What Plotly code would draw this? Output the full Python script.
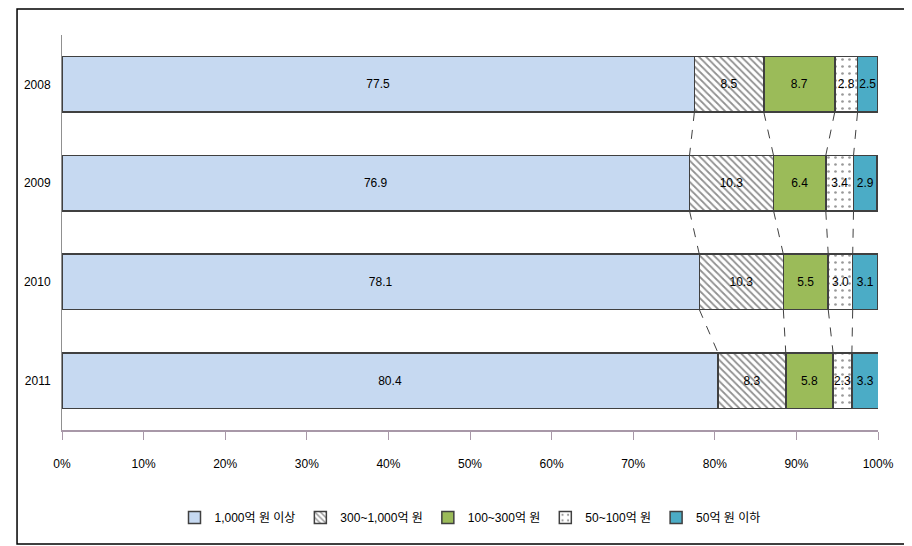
import plotly.graph_objects as go

years = ["2008", "2009", "2010", "2011"]
series_names = ["1,000억 원 이상", "300~1,000억 원", "100~300억 원", "50~100억 원", "50억 원 이하"]
s_1000_plus = [77.5, 76.9, 78.1, 80.4]
s_300_1000 = [8.5, 10.3, 10.3, 8.3]
s_100_300 = [8.7, 6.4, 5.5, 5.8]
s_50_100 = [2.8, 3.4, 3.0, 2.3]
s_50_minus = [2.5, 2.9, 3.1, 3.3]
x_ticks = [0, 10, 20, 30, 40, 50, 60, 70, 80, 90, 100]
x_ticklabels = ["0%", "10%", "20%", "30%", "40%", "50%", "60%", "70%", "80%", "90%", "100%"]

series = [s_1000_plus, s_300_1000, s_100_300, s_50_100, s_50_minus]
FONT = "Liberation Sans Narrow, Liberation Sans, Noto Sans CJK KR, sans-serif"
BAR_W = 0.56
ypos = list(range(len(years)))

styles = [
    dict(color="#C6D9F1"),
    dict(color="white", pattern=dict(shape="\\", fgcolor="#222222", bgcolor="white", size=5, solidity=0.35)),
    dict(color="#9BBB59"),
    dict(color="white", pattern=dict(shape=".", fgcolor="#333333", bgcolor="white", size=7, solidity=0.12)),
    dict(color="#4BACC6"),
]

fig = go.Figure()
for name, vals, st in zip(series_names, series, styles):
    fig.add_trace(go.Bar(
        y=ypos, x=vals, name=name, orientation="h", width=BAR_W,
        marker=dict(line=dict(color="#404040", width=1.5), **st),
        text=[f"{v:.1f}" for v in vals], textposition="inside",
        insidetextanchor="middle", textangle=0, constraintext="none",
        textfont=dict(family=FONT, size=12, color="black"),
    ))

# dashed connector lines between cumulative boundaries
cums = []
for i in range(len(years)):
    c, row = 0, []
    for s in series[:-1]:
        c += s[i]
        row.append(c)
    cums.append(row)
shapes = []
for i in range(len(years) - 1):
    for k in range(len(series) - 1):
        shapes.append(dict(type="line", xref="x", yref="y",
                           x0=cums[i][k], y0=ypos[i] + BAR_W / 2,
                           x1=cums[i + 1][k], y1=ypos[i + 1] - BAR_W / 2,
                           line=dict(color="#404040", width=1, dash="dash")))
# outer border
shapes.append(dict(type="rect", xref="paper", yref="paper",
                   x0=-0.0551, x1=1.0331, y0=-0.2886, y1=1.0658,
                   line=dict(color="black", width=1.5)))

fig.update_layout(
    width=904, height=538,
    margin=dict(l=54, r=34, t=27, b=116, autoexpand=False),
    paper_bgcolor="white", plot_bgcolor="white",
    barmode="stack", bargap=0.44,
    showlegend=True,
    legend=dict(orientation="h", x=0.5, xanchor="center", y=-0.185, yanchor="top",
                font=dict(family=FONT, size=12, color="black"),
                itemwidth=30, traceorder="normal"),
    font=dict(family=FONT, size=12, color="black"),
    shapes=shapes,
)
fig.update_xaxes(range=[0, 100], tickvals=x_ticks, ticktext=x_ticklabels, automargin=False,
                 showgrid=False, zeroline=False, showline=True, linecolor="#A898A8", linewidth=1.5,
                 ticks="outside", ticklen=8, tickcolor="#A898A8", ticklabelstandoff=14,
                 tickfont=dict(family=FONT, size=12, color="black"))
fig.update_yaxes(range=[3.5, -0.5], tickvals=ypos, ticktext=years, automargin=False,
                 showgrid=False, zeroline=False, showline=True, linecolor="#909090", linewidth=1,
                 ticks="", ticklabelstandoff=8,
                 tickfont=dict(family=FONT, size=12, color="black"))

fig.write_html("out.html")
